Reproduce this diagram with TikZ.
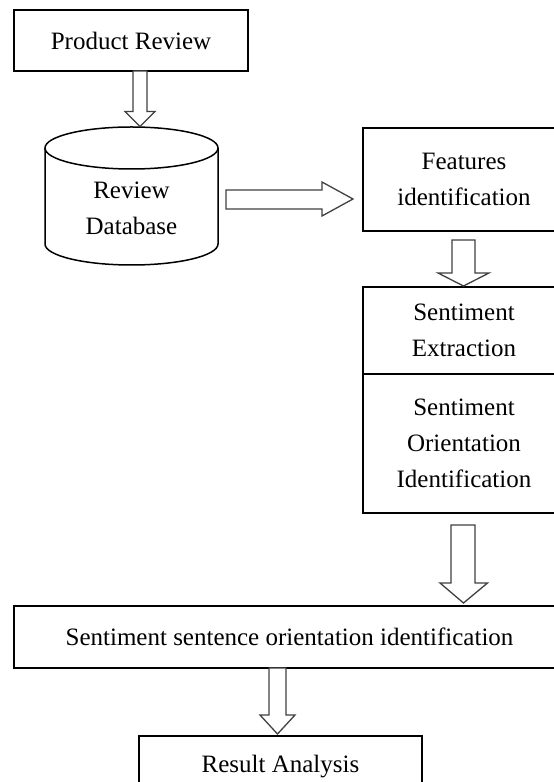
\documentclass[tikz,border=0pt]{standalone}
\usepackage{fontspec}
\setmainfont{Liberation Serif}
\begin{document}
\begin{tikzpicture}[x=1pt,y=1pt,inner sep=0pt,outer sep=0pt,
procbox/.style={draw,rectangle,line width=1.5pt,align=center,font=\fontsize{25}{36}\selectfont},
textonly/.style={rectangle,align=center,font=\fontsize{25}{36}\selectfont},
fatarrow/.style={draw=black!75,line width=1.3pt,line join=miter,fill=white}]
\useasboundingbox (0,0) rectangle (554,782);
\clip (0,0) rectangle (554,782);
% boxes
\draw (131,741.5) node[procbox,minimum width=234,minimum height=61] (prod) {Product Review};
\draw (131.5,573.5) node[textonly,minimum width=173] (db) {Review\\Database};
\draw (464,602.5) node[procbox,minimum width=202,minimum height=103] (feat) {Features\\identification};
\draw (464,451.5) node[procbox,minimum width=202,minimum height=87] (sext) {Sentiment\\Extraction};
\draw (464,338.5) node[procbox,minimum width=202,minimum height=139] (sori) {Sentiment\\Orientation\\Identification};
\draw (289.5,145) node[procbox,minimum width=551,minimum height=62] (sent) {Sentiment sentence orientation identification};
\draw (280.5,15) node[procbox,minimum width=283,minimum height=62] (res) {Result Analysis};
% database cylinder
\draw[line width=1.5pt] (db.center) ++(0,60.5) ellipse[x radius=86.5,y radius=21];
\draw[line width=1.5pt] (db.center) ++(-86.5,60.5) -- ++(0,-96)
  arc[start angle=180,end angle=360,x radius=86.5,y radius=21] -- ++(0,96);
% block arrows
\draw[fatarrow] (prod.south) ++(2,0) -- ++(0,-40.5) -- ++(-8,0) -- ++(15,-15)
  -- ++(15,15) -- ++(-8,0) -- ++(0,40.5) -- cycle;
\draw[fatarrow] (db.east) ++(8,18.5) -- ++(96,0) -- ++(0,8) -- ++(31,-17)
  -- ++(-31,-17) -- ++(0,7) -- ++(-96,0) -- cycle;
\draw[fatarrow] (feat.south) ++(-12,-9) -- ++(0,-33) -- ++(-14,0) -- ++(25.5,-13)
  -- ++(25.5,13) -- ++(-14,0) -- ++(0,33) -- cycle;
\draw[fatarrow] (sori.south) ++(-13,-12) -- ++(0,-58) -- ++(-11,0) -- ++(23.5,-20)
  -- ++(24,20) -- ++(-12.5,0) -- ++(0,58) -- cycle;
\draw[fatarrow] (sent.south) ++(-20.5,0) -- ++(0,-47) -- ++(-9,0) -- ++(17.5,-19)
  -- ++(17.5,19) -- ++(-9,0) -- ++(0,47) -- cycle;
\end{tikzpicture}
\end{document}
